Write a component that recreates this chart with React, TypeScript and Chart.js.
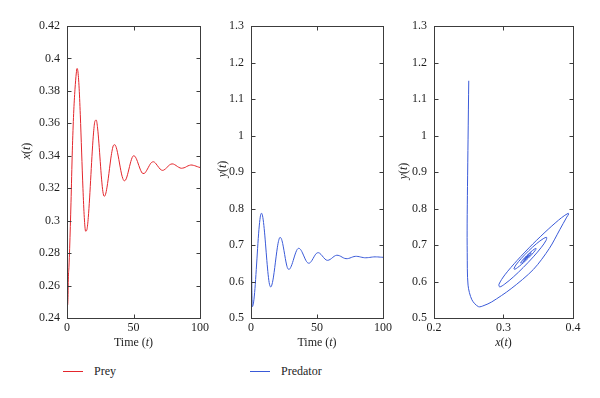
import React, { useEffect, useRef } from "react";
import { Chart, registerables } from "chart.js";
Chart.register(...registerables);

// time points (t)
const time = [
  0, 0.1, 0.2, 0.3, 0.4, 0.6, 0.8, 1, 1.5, 2, 3, 4, 5, 6, 7, 7.5,
  8, 9, 10, 11, 12, 13, 14, 15, 16, 17, 18, 19, 20, 21, 22, 23, 24, 25, 26, 27, 28, 29, 30,
  31, 32, 33, 34, 35, 36, 37, 38, 39, 40, 41, 42, 43, 44, 45, 46, 47, 48, 49, 50,
  51, 52, 53, 54, 55, 56, 57, 58, 59, 60, 61, 62, 63, 64, 65, 66, 67, 68, 69, 70,
  71, 72, 73, 74, 75, 76, 77, 78, 79, 80, 81, 82, 83, 84, 85, 86, 87, 88, 89, 90,
  91, 92, 93, 94, 95, 96, 97, 98, 99, 100,
];

// prey x(t)
const prey = [
  0.25, 0.249, 0.2482, 0.2477, 0.2478, 0.249, 0.2545, 0.264, 0.272, 0.283, 0.311, 0.343, 0.366, 0.381, 0.391, 0.3938,
  0.3931, 0.3835, 0.3653, 0.3423, 0.3197, 0.302, 0.2935,
  0.2946, 0.3019, 0.314, 0.3285, 0.3429, 0.3546, 0.3613,
  0.362, 0.3571, 0.3478, 0.3364, 0.3256, 0.3178, 0.315,
  0.3163, 0.3202, 0.3258, 0.3323, 0.3386, 0.3436, 0.3465,
  0.3468, 0.3452, 0.3419, 0.3376, 0.333, 0.3288, 0.3259, 0.3246,
  0.325, 0.3269, 0.3299, 0.3333, 0.3365, 0.3389, 0.34,
  0.3397, 0.3384, 0.3364, 0.334, 0.3318, 0.33, 0.3291,
  0.3291, 0.3298, 0.3311, 0.3326, 0.3341, 0.3354, 0.3361,
  0.3363, 0.3359, 0.335, 0.3339, 0.3328, 0.3318, 0.3312,
  0.331, 0.3313, 0.3319, 0.3327, 0.3335, 0.3343, 0.3348, 0.335,
  0.3349, 0.3345, 0.334, 0.3334, 0.3329, 0.3325, 0.3323,
  0.3324, 0.3326, 0.3329, 0.3334, 0.3338, 0.3341, 0.3343,
  0.3343, 0.3341, 0.3339, 0.3336, 0.3333, 0.333, 0.3328,
];

// predator y(t)
const predator = [
  1.15, 0.99, 0.86, 0.76, 0.68, 0.59, 0.55, 0.531, 0.5343, 0.544, 0.5804, 0.633, 0.6907, 0.742, 0.7764, 0.7849,
  0.7869, 0.7748, 0.7448, 0.703, 0.6579, 0.6183, 0.5924,
  0.5851, 0.5932, 0.6121, 0.6385, 0.6675, 0.6939, 0.7128, 0.7209,
  0.7172, 0.7041, 0.6845, 0.6632, 0.6451, 0.6346,
  0.6335, 0.6381, 0.6466, 0.6578, 0.6697, 0.6803, 0.6878, 0.6909,
  0.6897, 0.6853, 0.6783, 0.6701, 0.6619, 0.6551, 0.651,
  0.6501, 0.6522, 0.6568, 0.6629, 0.6693, 0.6748, 0.6782,
  0.6789, 0.6775, 0.6743, 0.6701, 0.6656, 0.6616, 0.6589,
  0.658, 0.6587, 0.6606, 0.6632, 0.6662, 0.669, 0.671, 0.672,
  0.6717, 0.6706, 0.6689, 0.6668, 0.6648, 0.6633, 0.6626,
  0.6626, 0.6633, 0.6644, 0.6658, 0.6672, 0.6683, 0.6689,
  0.669, 0.6686, 0.668, 0.6671, 0.6663, 0.6656, 0.6651,
  0.665, 0.6652, 0.6655, 0.666, 0.6666, 0.667, 0.6674, 0.6675,
  0.6674, 0.6673, 0.667, 0.6667, 0.6665, 0.6663,
];

const timeTicks = [0, 50, 100];
const preyTicks = [0.24, 0.26, 0.28, 0.3, 0.32, 0.34, 0.36, 0.38, 0.4, 0.42];
const predatorTicks = [0.5, 0.6, 0.7, 0.8, 0.9, 1, 1.1, 1.2, 1.3];
const phaseXTicks = [0.2, 0.3, 0.4];

const FONT = "'Liberation Serif', 'Times New Roman', serif";
const AXIS = "#3c3c3c";
const TEXT = "#1e1e1e";
const RED = "#e4262c";
const BLUE = "#3a5ad8";

type Part = [string, boolean];

function drawRich(ctx: CanvasRenderingContext2D, parts: Part[], cx: number, cy: number, rotate: boolean) {
  ctx.save();
  ctx.translate(cx, cy);
  if (rotate) ctx.rotate(-Math.PI / 2);
  const fontOf = (it: boolean) => `${it ? "italic " : ""}12px ${FONT}`;
  const widths = parts.map(([s, it]) => {
    ctx.font = fontOf(it);
    return ctx.measureText(s).width;
  });
  const total = widths.reduce((a, b) => a + b, 0);
  let x = -total / 2;
  ctx.textBaseline = "middle";
  ctx.textAlign = "left";
  ctx.fillStyle = TEXT;
  parts.forEach(([s, it], i) => {
    ctx.font = fontOf(it);
    ctx.fillText(s, x, 0);
    x += widths[i];
  });
  ctx.restore();
}

const framePlugin = {
  id: "frame",
  afterDraw(chart: any, _args: any, opts: any) {
    const { ctx, chartArea: a, scales } = chart;
    const xs = scales.x;
    const ys = scales.y;
    ctx.save();
    ctx.strokeStyle = AXIS;
    ctx.lineWidth = 1;
    const l = Math.round(a.left) + 0.5;
    const r = Math.round(a.right) + 0.5;
    const t = Math.round(a.top) + 0.5;
    const b = Math.round(a.bottom) + 0.5;
    ctx.strokeRect(l, t, r - l, b - t);
    const L = 4;
    ctx.beginPath();
    xs.ticks.forEach((tk: any) => {
      const px = Math.round(xs.getPixelForValue(tk.value)) + 0.5;
      ctx.moveTo(px, b);
      ctx.lineTo(px, b - L);
      ctx.moveTo(px, t);
      ctx.lineTo(px, t + L);
    });
    ys.ticks.forEach((tk: any) => {
      const py = Math.round(ys.getPixelForValue(tk.value)) + 0.5;
      ctx.moveTo(l, py);
      ctx.lineTo(l + L, py);
      ctx.moveTo(r, py);
      ctx.lineTo(r - L, py);
    });
    ctx.stroke();
    drawRich(ctx, opts.xTitle, (a.left + a.right) / 2, opts.xTitleY, false);
    drawRich(ctx, opts.yTitle, opts.yTitleX, opts.yTitleY, true);
    ctx.restore();
  },
};

const fmt = (v: any) => String(parseFloat(Number(v).toFixed(2)));

type PanelProps = {
  left: number;
  width: number;
  padRight: number;
  axisWidth: number;
  points: { x: number; y: number }[];
  color: string;
  xRange: [number, number];
  xTicks: number[];
  yRange: [number, number];
  yTicks: number[];
  xTitle: Part[];
  yTitle: Part[];
  yTitleX: number;
  yTitleY: number;
  monotone: boolean;
};

const H = 360;

function Panel(p: PanelProps) {
  const ref = useRef<HTMLCanvasElement>(null);
  useEffect(() => {
    const font = { family: FONT, size: 12 };
    const chart = new Chart(ref.current as HTMLCanvasElement, {
      type: "scatter",
      data: {
        datasets: [
          {
            data: p.points,
            showLine: true,
            borderColor: p.color,
            backgroundColor: p.color,
            borderWidth: 1,
            pointRadius: 0,
            tension: p.monotone ? 0 : 0.3,
            cubicInterpolationMode: p.monotone ? "monotone" : "default",
          } as any,
        ],
      },
      options: {
        responsive: false,
        maintainAspectRatio: false,
        animation: false,
        layout: { padding: { top: 26, right: p.padRight, left: 0, bottom: 0 } },
        plugins: {
          legend: { display: false },
          tooltip: { enabled: false },
          frame: {
            xTitle: p.xTitle,
            yTitle: p.yTitle,
            xTitleY: 343,
            yTitleX: p.yTitleX,
            yTitleY: p.yTitleY,
          },
        } as any,
        scales: {
          x: {
            type: "linear",
            min: p.xRange[0],
            max: p.xRange[1],
            grid: { display: false, drawTicks: false },
            border: { display: false },
            afterBuildTicks: (s: any) => {
              s.ticks = p.xTicks.map((v) => ({ value: v }));
            },
            afterFit: (s: any) => {
              s.height = H - 318;
            },
            ticks: { padding: 3, font, color: TEXT, callback: fmt, maxRotation: 0, autoSkip: false },
          },
          y: {
            type: "linear",
            min: p.yRange[0],
            max: p.yRange[1],
            grid: { display: false, drawTicks: false },
            border: { display: false },
            afterBuildTicks: (s: any) => {
              s.ticks = p.yTicks.map((v) => ({ value: v }));
            },
            afterFit: (s: any) => {
              s.width = p.axisWidth;
            },
            ticks: { padding: 7, font, color: TEXT, callback: fmt, autoSkip: false },
          },
        } as any,
      },
      plugins: [framePlugin as any],
    });
    return () => chart.destroy();
  }, []);
  return (
    <canvas
      ref={ref}
      width={p.width}
      height={H}
      style={{ position: "absolute", left: p.left, top: 0, width: p.width, height: H }}
    />
  );
}

const preySeries = time.map((t, i) => ({ x: t, y: prey[i] }));
const predatorSeries = time.map((t, i) => ({ x: t, y: predator[i] }));
const phaseSeries = time.map((_t, i) => ({ x: prey[i], y: predator[i] }));

const timeTitle: Part[] = [["Time (", false], ["t", true], [")", false]];
const xTitle: Part[] = [["x", true], ["(", false], ["t", true], [")", false]];
const yTitle: Part[] = [["y", true], ["(", false], ["t", true], [")", false]];

const legendText: React.CSSProperties = {
  position: "absolute",
  top: 363,
  fontFamily: FONT,
  fontSize: 12,
  lineHeight: "16px",
  color: TEXT,
  whiteSpace: "nowrap",
};

export default function App() {
  return (
    <div
      style={{
        position: "fixed",
        left: 0,
        top: 0,
        width: 600,
        height: 398,
        background: "#fff",
        overflow: "hidden",
      }}
    >
      <Panel
        left={0}
        width={212}
        padRight={12}
        axisWidth={67}
        points={preySeries}
        color={RED}
        xRange={[0, 100]}
        xTicks={timeTicks}
        yRange={[0.24, 0.42]}
        yTicks={preyTicks}
        xTitle={timeTitle}
        yTitle={xTitle}
        yTitleX={27}
        yTitleY={151}
        monotone={true}
      />
      <Panel
        left={212}
        width={183}
        padRight={12}
        axisWidth={39}
        points={predatorSeries}
        color={BLUE}
        xRange={[0, 100]}
        xTicks={timeTicks}
        yRange={[0.5, 1.3]}
        yTicks={predatorTicks}
        xTitle={timeTitle}
        yTitle={yTitle}
        yTitleX={11}
        yTitleY={169}
        monotone={true}
      />
      <Panel
        left={395}
        width={205}
        padRight={27}
        axisWidth={39}
        points={phaseSeries}
        color={BLUE}
        xRange={[0.2, 0.4]}
        xTicks={phaseXTicks}
        yRange={[0.5, 1.3]}
        yTicks={predatorTicks}
        xTitle={xTitle}
        yTitle={yTitle}
        yTitleX={9}
        yTitleY={171}
        monotone={false}
      />
      <div style={{ position: "absolute", left: 63, top: 371, width: 20, height: 1, background: RED }} />
      <div style={{ ...legendText, left: 94 }}>Prey</div>
      <div style={{ position: "absolute", left: 250, top: 371, width: 20, height: 1, background: BLUE }} />
      <div style={{ ...legendText, left: 281 }}>Predator</div>
    </div>
  );
}
